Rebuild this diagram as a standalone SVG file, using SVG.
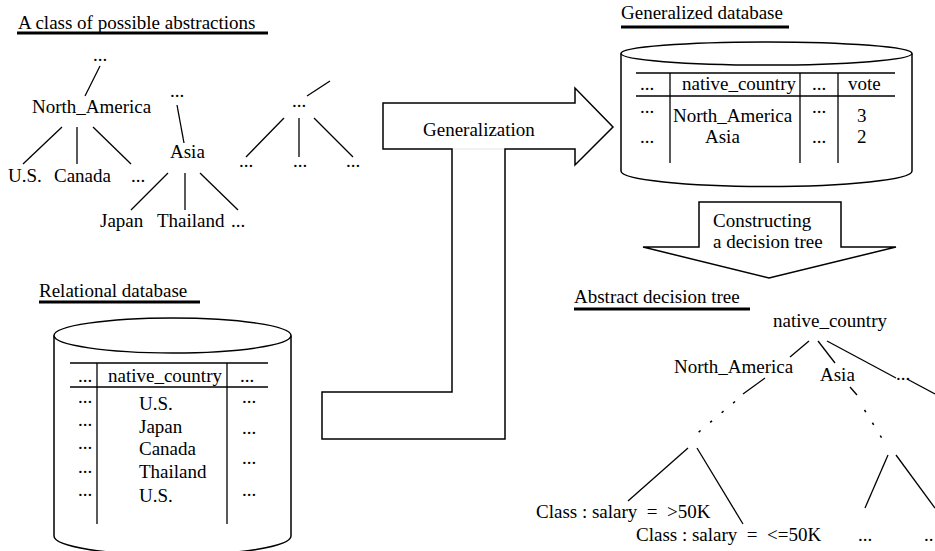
<svg xmlns="http://www.w3.org/2000/svg" width="935" height="551" viewBox="0 0 935 551">
  <style>
    .t { font-family: "Liberation Serif", "Times New Roman", serif; font-size: 19px; fill: #000; }
    .ln { stroke: #000; stroke-width: 1.3; fill: none; stroke-linecap: butt; }
    .ul { stroke: #000; stroke-width: 3; }
    .shape { fill: #fff; stroke: #000; stroke-width: 1.5; stroke-linejoin: miter; }
    .dot { stroke: #000; stroke-width: 1.5; fill: none; stroke-dasharray: 2.5 12.5; }
  </style>
  <rect width="935" height="551" fill="#fff"/>

  <!-- Section titles -->
  <g id="title-abstractions">
    <text class="t" x="18" y="29">A class of possible abstractions</text>
    <line class="ul" x1="17" y1="33" x2="268" y2="33"/>
  </g>
  <g id="title-generalized">
    <text class="t" x="621" y="19">Generalized database</text>
    <line class="ul" x1="621" y1="27" x2="789" y2="27"/>
  </g>
  <g id="title-relational">
    <text class="t" x="39" y="297">Relational database</text>
    <line class="ul" x1="39" y1="302" x2="200" y2="302"/>
  </g>
  <g id="title-decision-tree">
    <text class="t" x="574" y="303">Abstract decision tree</text>
    <line class="ul" x1="574" y1="309" x2="750" y2="309"/>
  </g>

  <!-- Tree edges -->
  <g id="connectors">
    <!-- concept hierarchy -->
    <line class="ln" x1="100" y1="66" x2="85" y2="96"/>
    <line class="ln" x1="62" y1="127" x2="23" y2="164"/>
    <line class="ln" x1="77" y1="127" x2="77" y2="164"/>
    <line class="ln" x1="93" y1="127" x2="131" y2="164"/>
    <line class="ln" x1="177" y1="105" x2="184" y2="143"/>
    <line class="ln" x1="168" y1="173" x2="131" y2="210"/>
    <line class="ln" x1="185" y1="173" x2="185" y2="210"/>
    <line class="ln" x1="200" y1="173" x2="238" y2="210"/>
    <line class="ln" x1="330" y1="81" x2="307" y2="96"/>
    <line class="ln" x1="284" y1="118" x2="246" y2="157"/>
    <line class="ln" x1="299" y1="118" x2="299" y2="157"/>
    <line class="ln" x1="314" y1="118" x2="353" y2="157"/>
    <!-- decision tree -->
    <line class="ln" x1="809" y1="341" x2="790" y2="357"/>
    <line class="ln" x1="818" y1="341" x2="835" y2="363"/>
    <line class="ln" x1="827" y1="341" x2="896" y2="378"/>
    <line class="ln" x1="907" y1="379" x2="935" y2="394"/>
    <line class="ln" x1="765" y1="378" x2="743" y2="394"/>
    <path class="dot" d="M735,401.5 L697,433.5"/>
    <line class="ln" x1="850" y1="387" x2="857" y2="395"/>
    <path class="dot" d="M864.5,410 L883,440"/>
    <line class="ln" x1="688" y1="448" x2="628" y2="501"/>
    <line class="ln" x1="697" y1="448" x2="743" y2="524"/>
    <line class="ln" x1="888" y1="455" x2="865" y2="508"/>
    <line class="ln" x1="896" y1="455" x2="935" y2="508"/>
  </g>

  <!-- Concept hierarchy nodes -->
  <g id="node-root-na"><text class="t" x="93" y="61">...</text></g>
  <g id="node-north-america"><text class="t" x="32" y="113">North_America</text></g>
  <g id="node-us"><text class="t" x="8" y="182">U.S.</text></g>
  <g id="node-canada"><text class="t" x="54" y="182">Canada</text></g>
  <g id="node-na-more"><text class="t" x="131" y="182">...</text></g>
  <g id="node-root-asia"><text class="t" x="170" y="97">...</text></g>
  <g id="node-asia"><text class="t" x="170" y="158">Asia</text></g>
  <g id="node-japan"><text class="t" x="100" y="227">Japan</text></g>
  <g id="node-thailand"><text class="t" x="157" y="227">Thailand</text></g>
  <g id="node-asia-more"><text class="t" x="231" y="227">...</text></g>
  <g id="node-other"><text class="t" x="292" y="107">...</text></g>
  <g id="node-other-1"><text class="t" x="239" y="167">...</text></g>
  <g id="node-other-2"><text class="t" x="293" y="167">...</text></g>
  <g id="node-other-3"><text class="t" x="346" y="167">...</text></g>

  <!-- Generalization arrow (L-shaped) -->
  <g id="generalization-arrow">
    <polygon class="shape" points="383,103 575,103 575,88 613,127 575,165 575,149 505,149 505,439 322,439 322,392 452,392 452,149 383,149"/>
    <line x1="453" y1="149" x2="504" y2="149" stroke="#e4e4e4" stroke-width="1"/>
    <text class="t" x="423" y="136">Generalization</text>
  </g>

  <!-- Generalized database cylinder -->
  <g id="generalized-db">
    <path class="shape" d="M621,53.5 L621,171 A145.5,15.5 0 0 0 912,171 L912,53.5"/>
    <ellipse class="shape" cx="766.5" cy="53.5" rx="145.5" ry="11.5"/>
    <line class="ln" x1="636" y1="73" x2="895" y2="73"/>
    <line class="ln" x1="636" y1="96" x2="895" y2="96"/>
    <line class="ln" x1="670" y1="73" x2="670" y2="163"/>
    <line class="ln" x1="800" y1="73" x2="800" y2="163"/>
    <line class="ln" x1="838" y1="73" x2="838" y2="163"/>
    <text class="t" x="640" y="90">...</text>
    <text class="t" x="682" y="90">native_country</text>
    <text class="t" x="812" y="90">...</text>
    <text class="t" x="848" y="90">vote</text>
    <text class="t" x="640" y="113">...</text>
    <text class="t" x="673" y="122">North_America</text>
    <text class="t" x="812" y="113">...</text>
    <text class="t" x="857" y="122">3</text>
    <text class="t" x="640" y="143">...</text>
    <text class="t" x="705" y="143">Asia</text>
    <text class="t" x="812" y="143">...</text>
    <text class="t" x="857" y="143">2</text>
  </g>

  <!-- Relational database cylinder -->
  <g id="relational-db">
    <path class="shape" d="M54,335.5 L54,536 A118.5,19 0 0 0 291,536 L291,335.5"/>
    <ellipse class="shape" cx="172.5" cy="335.5" rx="118.5" ry="17.5"/>
    <line class="ln" x1="70" y1="363" x2="268" y2="363"/>
    <line class="ln" x1="70" y1="387" x2="268" y2="387"/>
    <line class="ln" x1="97" y1="363" x2="97" y2="524"/>
    <line class="ln" x1="227" y1="363" x2="227" y2="524"/>
    <text class="t" x="78" y="382">...</text>
    <text class="t" x="108" y="382">native_country</text>
    <text class="t" x="240" y="382">...</text>
    <text class="t" x="78" y="403">...</text>
    <text class="t" x="78" y="426">...</text>
    <text class="t" x="78" y="449">...</text>
    <text class="t" x="78" y="473">...</text>
    <text class="t" x="78" y="496">...</text>
    <text class="t" x="139" y="410">U.S.</text>
    <text class="t" x="139" y="433">Japan</text>
    <text class="t" x="139" y="455">Canada</text>
    <text class="t" x="139" y="478">Thailand</text>
    <text class="t" x="139" y="502">U.S.</text>
    <text class="t" x="242" y="403">...</text>
    <text class="t" x="242" y="434">...</text>
    <text class="t" x="242" y="464">...</text>
    <text class="t" x="242" y="496">...</text>
  </g>

  <!-- Decision tree construction arrow -->
  <g id="construct-arrow">
    <polygon class="shape" points="699,202 841,202 841,247 896,247 769,278 643,247 699,247"/>
    <text class="t" x="713" y="227">Constructing</text>
    <text class="t" x="713" y="248">a decision tree</text>
  </g>

  <!-- Decision tree nodes -->
  <g id="dt-root"><text class="t" x="773" y="327">native_country</text></g>
  <g id="dt-north-america"><text class="t" x="674" y="373">North_America</text></g>
  <g id="dt-asia"><text class="t" x="820" y="381">Asia</text></g>
  <g id="dt-other"><text class="t" x="896" y="380">...</text></g>
  <g id="dt-leaf-high"><text class="t" x="536" y="518" xml:space="preserve">Class : salary  =  &gt;50K</text></g>
  <g id="dt-leaf-low"><text class="t" x="636" y="541" xml:space="preserve">Class : salary  =  &lt;=50K</text></g>
  <g id="dt-leaf-asia-1"><text class="t" x="858" y="541">...</text></g>
  <g id="dt-leaf-asia-2"><text class="t" x="924" y="541">..</text></g>
</svg>
